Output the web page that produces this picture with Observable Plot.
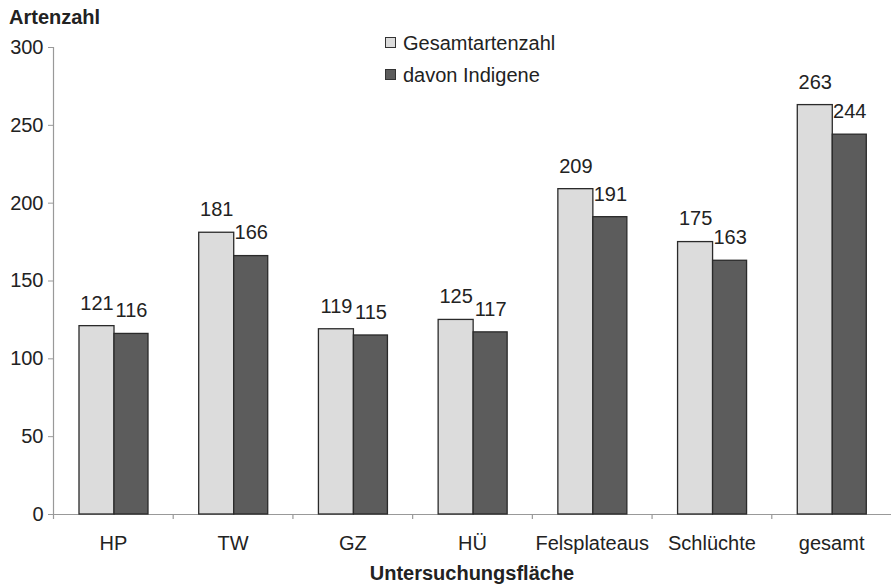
<!DOCTYPE html>
<html>
<head>
<meta charset="utf-8">
<script src="https://cdn.jsdelivr.net/npm/d3@7"></script>
<script src="https://cdn.jsdelivr.net/npm/@observablehq/plot@0.6"></script>
<style>
  body { margin: 0; background: white; font-family: "Liberation Sans", Arial, sans-serif; color: #222; }
  #wrap { position: relative; width: 891px; height: 586px; overflow: hidden; }
  .ov { position: absolute; white-space: nowrap; line-height: 1; }
  .sq { position: absolute; width: 9px; height: 9px; border: 1px solid #333; }
</style>
</head>
<body>
<div id="wrap">
  <div id="chart"></div>
  <div class="ov" style="left:9px; top:7px; font-size:20px; font-weight:bold;">Artenzahl</div>
  <div class="sq" style="left:385px; top:37px; background:#dcdcdc;"></div>
  <div class="ov" style="left:403px; top:33px; font-size:20px;">Gesamtartenzahl</div>
  <div class="sq" style="left:385px; top:69px; background:#5c5c5c;"></div>
  <div class="ov" style="left:403px; top:65px; font-size:20px;">davon Indigene</div>
  <div class="ov" style="left:53px; width:838px; text-align:center; top:563px; font-size:20px; font-weight:bold;">Untersuchungsfläche</div>
</div>
<script>
const categories = ["HP", "TW", "GZ", "HÜ", "Felsplateaus", "Schlüchte", "gesamt"];
const gesamt = [121, 181, 119, 125, 209, 175, 263];
const indigene = [116, 166, 115, 117, 191, 163, 244];
const yTicks = [0, 50, 100, 150, 200, 250, 300];

const rowsG = categories.map((c, i) => ({cat: c, value: gesamt[i]}));
const rowsI = categories.map((c, i) => ({cat: c, value: indigene[i]}));

const W = 891, H = 586, mL = 53, mR = 0, mT = 47, mB = 72;
const step = (W - mL - mR) / categories.length;

const chart = Plot.plot({
  width: W,
  height: H,
  marginLeft: mL,
  marginRight: mR,
  marginTop: mT,
  marginBottom: mB,
  style: {fontFamily: "Liberation Sans, Arial, sans-serif", fontSize: "20px", color: "#222", background: "white"},
  x: {type: "band", domain: categories, padding: 0, round: false},
  y: {domain: [0, 300]},
  marks: [
    Plot.axisY({ticks: yTicks, tickSize: 5, tickPadding: 5, label: null, stroke: "#999", fill: "#222", fontSize: 20}),
    Plot.axisX({tickSize: 0, tickPadding: 21, label: null, fill: "#222", fontSize: 20}),
    Plot.ruleY([0], {stroke: "#999", strokeWidth: 1.2}),
    Plot.ruleX([categories[0]], {x: d => d, y1: 0, y2: 300, dx: -step / 2, stroke: "#999", strokeWidth: 1.2}),
    Plot.ruleX(categories, {x: d => d, y1: 0, y2: 0, insetBottom: -5, dx: -step / 2, stroke: "#999", strokeWidth: 1.2}),
    Plot.barY(rowsG, {x: "cat", y: "value", fill: "#dcdcdc", stroke: "#2a2a2a", strokeWidth: 1.3, insetLeft: 26, insetRight: step - 61}),
    Plot.barY(rowsI, {x: "cat", y: "value", fill: "#5c5c5c", stroke: "#2a2a2a", strokeWidth: 1.3, insetLeft: 61, insetRight: step - 95}),
    Plot.text(rowsG, {x: "cat", y: "value", text: d => String(d.value), dx: 43.5 - step / 2, dy: -23, fontSize: 20, fill: "#222"}),
    Plot.text(rowsI, {x: "cat", y: "value", text: d => String(d.value), dx: 78 - step / 2, dy: -23, fontSize: 20, fill: "#222"})
  ]
});
document.getElementById("chart").appendChild(chart);
</script>
</body>
</html>
